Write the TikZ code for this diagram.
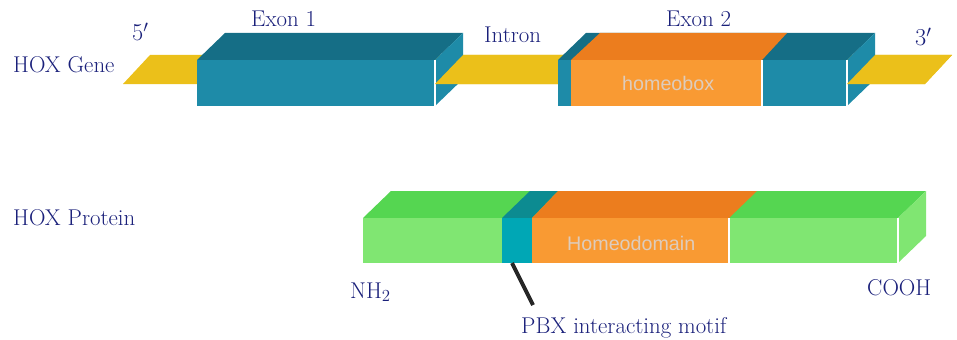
\documentclass[tikz,border=0pt]{standalone}
\usepackage{fontspec}
\newfontfamily\boxfont{Liberation Sans}
\usetikzlibrary{calc}
\definecolor{navytext}{RGB}{26,32,122}
\definecolor{domtext}{RGB}{222,204,188}
\definecolor{stripyellow}{RGB}{235,192,26}
\definecolor{exonfront}{RGB}{30,139,168}
\definecolor{exontop}{RGB}{21,110,134}
\definecolor{hboxfront}{RGB}{249,154,51}
\definecolor{hboxtop}{RGB}{236,125,30}
\definecolor{protfront}{RGB}{128,230,114}
\definecolor{prottop}{RGB}{85,214,81}
\definecolor{pbxfront}{RGB}{0,167,181}
\definecolor{pbxtop}{RGB}{12,139,145}

\begin{document}
\begin{tikzpicture}[
    x=0.03cm,
    y=-0.03cm,
    lbl/.style={
        anchor=base west,
        inner sep=0pt,
        text=navytext,
        font=\fontsize{19.5}{21}\selectfont
    },
    domlbl/.style={
        anchor=base west,
        inner sep=0pt,
        text=domtext,
        font=\boxfont\fontsize{16.8}{18}\selectfont
    },
    seam/.style={white, line width=0.9pt},
    motif/.style={black!85, line width=3.4pt}
]
\useasboundingbox (0,0) rectangle (957,340);

% === Gène : brin jaune ===
\fill[stripyellow] (123,84) -- (150,55) -- (952,55) -- (925,84) -- cycle;

% === Exon 1 ===
\fill[exontop] (197,60) -- (225,33) -- (463,33) -- (435,60) -- cycle;
\fill[exonfront] (435,60) -- (463,33) -- (463,79) -- (435,106) -- cycle;
\fill[exonfront] (197,60) rectangle (435,106);
\draw[seam] (435,60) -- (435,106);
\fill[stripyellow] (435,84) -- (463,55) -- (600,55) -- (600,84) -- cycle;

% === Exon 2 (homeobox) ===
\fill[exontop] (558,60) -- (586,33) -- (875,33) -- (847,60) -- cycle;
\fill[hboxtop] (571,60) -- (600,33) -- (787,33) -- (762,60) -- cycle;
\fill[exonfront] (847,60) -- (875,33) -- (875,79) -- (847,106) -- cycle;
\fill[exonfront] (558,60) rectangle (847,106);
\fill[hboxfront] (571,60) rectangle (762,106);
\draw[seam] (762,60) -- (762,106);
\draw[seam] (847,60) -- (847,106);
\fill[stripyellow] (847,84) -- (875,55) -- (952,55) -- (925,84) -- cycle;

% === Protéine ===
\fill[prottop] (363,218) -- (391,191) -- (926,191) -- (898,218) -- cycle;
\fill[protfront] (898,218) -- (926,191) -- (926,236) -- (898,263) -- cycle;
\fill[protfront] (363,218) rectangle (898,263);
\fill[pbxtop] (502,218) -- (530,191) -- (558,191) -- (532,218) -- cycle;
\fill[pbxfront] (502,218) rectangle (532,263);
\fill[hboxtop] (532,218) -- (558,191) -- (757,191) -- (729,218) -- cycle;
\fill[hboxfront] (532,218) rectangle (729,263);
\draw[seam] (729,218) -- (729,263);
\draw[seam] (898,218) -- (898,263);
\coordinate (pbxfoot) at (512,263);
\coordinate (pbxtip) at (533,305);

% === Textes ===
\node[lbl] (gene) at (13,72) {HOX Gene};
\node[lbl] (protein) at (13,225) {HOX Protein};
\node[lbl] (five) at (132,41) {$5'$};
\node[lbl] (exon1) at (251,27) {Exon 1};
\node[lbl] (intron) at (484,43) {Intron};
\node[lbl] (exon2) at (666,27) {Exon 2};
\node[lbl] (three) at (915,46) {$3'$};
\node[domlbl] (hbox) at (622,90) {homeobox};
\node[domlbl] (hdom) at (567,250) {Homeodomain};
\node[lbl] (nterm) at (350,298) {NH$_2$};
\node[lbl] (cterm) at (867,295) {COOH};
\node[lbl] (pbx) at (521,333) {PBX interacting motif};

% PBX -> motif
\draw[motif] (pbxfoot) -- (pbxtip);

\end{tikzpicture}
\end{document}
